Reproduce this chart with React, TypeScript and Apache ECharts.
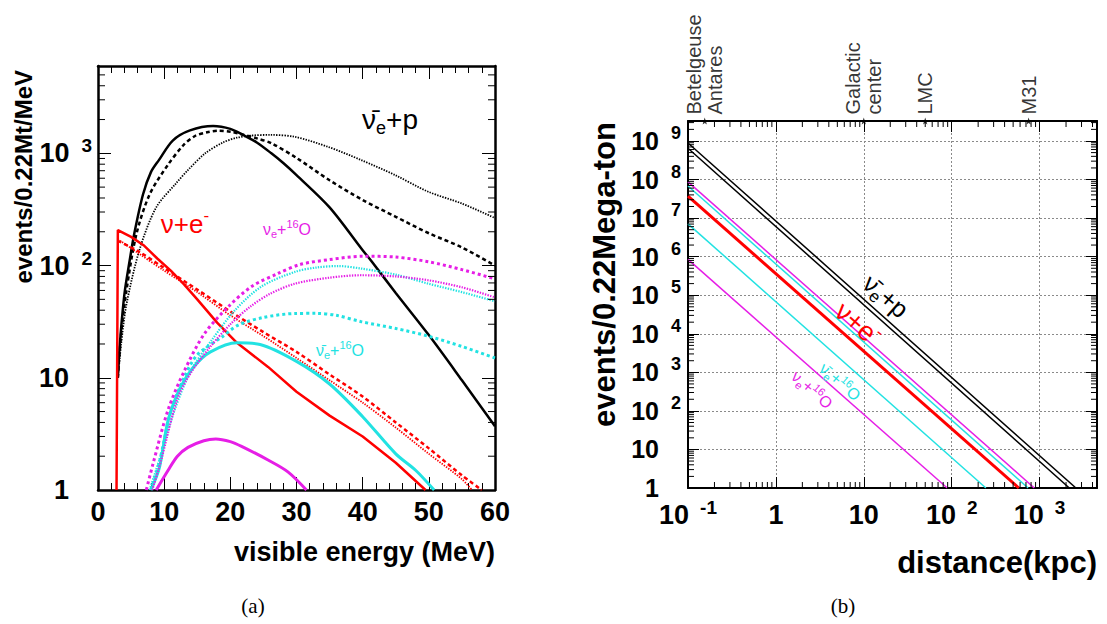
import React, { useEffect, useRef } from 'react';
import * as echarts from 'echarts';

const FONT = '"Liberation Sans", Arial, Helvetica, sans-serif';
const SERIF = '"Liberation Serif", "DejaVu Serif", serif';

const BLACK = '#000000';
const RED = '#ff0000';
const CYAN = '#22e2e2';
const MAGENTA = '#e61ee6';

// ---------------- Panel (a): visible-energy spectra ----------------
const energyMin = 0;
const energyMax = 60;
const energyStep = 10;
const spectrumMin = 1;
const spectrumMax = 6000;

// anti-nu_e + p (three models)
const ibdSolid = [[3.0, 10], [3.3, 20], [4.0, 56], [4.8, 112], [5.5, 195], [6.8, 430], [8, 680], [9.2, 870], [11.3, 1300], [13.9, 1600], [17.4, 1750], [20, 1650], [22, 1450], [24, 1250], [26.2, 1000], [28, 820], [30, 640], [35, 330], [40, 137], [41.4, 108], [45, 57], [50, 24], [55, 9.5], [60, 3.7]];
const ibdDashed = [[3.0, 10], [3.5, 25], [4.3, 60], [5.8, 190], [7.8, 430], [10.5, 780], [12.9, 1180], [14.6, 1420], [16.5, 1540], [18.2, 1590], [20, 1560], [21.7, 1480], [24, 1360], [26.2, 1230], [30, 910], [35, 575], [40, 384], [45, 272], [50, 194], [55, 145], [60, 100]];
const ibdDotted = [[3.0, 10], [3.5, 20], [4.3, 45], [6.3, 140], [8.8, 330], [11.8, 540], [13.5, 700], [16.2, 1000], [18.9, 1250], [21, 1380], [23.2, 1440], [26, 1460], [29.8, 1400], [34.8, 1140], [39.8, 870], [44.9, 640], [49.9, 455], [55, 357], [60, 265]];

// nu + e- elastic scattering
const esSolid = [[2.8, 1], [3.0, 207], [5, 180], [7, 150], [9, 115], [11, 90], [13, 68], [15, 50], [18, 31], [21, 20.5], [25.7, 12.5], [30, 7.5], [35, 4.6], [40, 3.0], [45, 1.75], [49.5, 1]];
const esDashed = [[3.0, 166], [6, 135], [10, 95], [15, 61], [20, 39], [25, 25.5], [30, 17], [35, 10.7], [40, 6.8], [45, 4.0], [50, 2.35], [55, 1.35], [58, 1]];
const esDotted = [[3.0, 172], [6, 130], [10, 90], [15, 58], [20, 36], [25, 23.5], [30, 15], [35, 9.5], [40, 6.0], [45, 3.6], [50, 2.1], [55, 1.25], [56.5, 1]];

// anti-nu_e + 16O
const oBarSolid = [[8.0, 1], [9.3, 1.6], [10.6, 4.2], [12.5, 8.3], [14.5, 12.6], [17, 17], [21, 20.5], [24.5, 19.8], [30, 14], [35, 8.8], [40, 4.5], [45, 2.1], [48, 1.5], [50.8, 1]];
const oBarDashed = [[8.0, 1], [9.3, 1.8], [11, 5], [13, 10], [15, 16], [18.7, 23], [21.2, 29.5], [25, 34.5], [29.8, 37.4], [33, 37.5], [36, 36], [39.8, 31.6], [45, 27.5], [49.9, 23.5], [55, 19], [60, 15]];
const oBarDotted = [[7.8, 1], [9.2, 1.8], [11.6, 5.2], [14.1, 11.7], [17.2, 21.7], [20.7, 40], [24.7, 65], [29.8, 88], [33, 96], [36.3, 99], [39.8, 94], [45, 83], [49.9, 69], [55, 58], [60, 48]];

// nu_e + 16O
const oSolid = [[8.8, 1], [10.6, 1.5], [12, 2.0], [13.6, 2.4], [16, 2.75], [17.8, 2.85], [20, 2.7], [21.7, 2.45], [25.7, 1.85], [28.7, 1.45], [31.5, 1]];
const oDashed = [[7.3, 1], [8.3, 1.7], [10.6, 5.2], [13.1, 11.7], [16.1, 24.8], [19.7, 43], [23.2, 65], [27.2, 85], [30.5, 102], [35, 113], [40, 121], [45, 119], [50, 108], [55, 92], [60, 76]];
const oDotted = [[8.2, 1], [9.5, 1.8], [12, 6.5], [14, 11], [17, 19], [20, 30], [23, 43], [26, 56], [29.8, 69], [35, 78], [39.8, 82], [45, 80], [49.9, 74], [55, 64], [60, 52]];

// ---------------- Panel (b): events vs distance ----------------
const distMin = 0.1;
const distMax = 4500;
const countMin = 1;
const countMax = 3.3e9;

const ibdDistA = [[0.1, 8.9e8], [2590, 1]];
const ibdDistB = [[0.1, 6.5e8], [2180, 1]];
const oDistA = [[0.1, 8.7e7], [870, 1]];
const oBarDistA = [[0.1, 6.8e7], [740, 1]];
const esDist = [[0.1, 3.7e7], [580, 1]];
const oBarDistB = [[0.1, 7.1e6], [245, 1]];
const oDistB = [[0.1, 8.5e5], [89, 1]];

const sourceNames = ['Betelgeuse\nAntares', 'Galactic\ncenter', 'LMC', 'M31'];
const sourceDistances = [0.155, 10, 50, 750];

// ---------------- helpers ----------------
function logMinor(min: number, max: number): number[] {
  const out: number[] = [];
  for (let e = Math.floor(Math.log10(min)); e <= Math.ceil(Math.log10(max)); e++) {
    for (let k = 2; k <= 9; k++) {
      const v = k * Math.pow(10, e);
      if (v > min * 1.0001 && v < max * 0.9999) out.push(v);
    }
  }
  return out;
}

const expOf = (v: number) => Math.round(Math.log10(v));

function yLabel(v: number) {
  const e = expOf(v);
  if (e === 0) return '{b|1}{sp| }';
  if (e === 1) return '{b|10}{sp| }';
  return `{b|10}{s|${e}}`;
}
function xLabelLog(v: number) {
  const e = expOf(v);
  if (e === 0) return '{b|1}';
  if (e === 1) return '{b|10}';
  return `{b|10}{s|${e}}`;
}

function labelRich(base: number, sup: number, gap: number, spacer: number) {
  return {
    b: { fontFamily: FONT, fontWeight: 'bold', fontSize: base, color: '#000', lineHeight: 34 },
    s: { fontFamily: FONT, fontWeight: 'bold', fontSize: sup, color: '#000', lineHeight: 12, verticalAlign: 'top', padding: [0, 0, 0, gap] },
    sp: { fontFamily: FONT, fontSize: sup, width: spacer, lineHeight: 34, color: 'rgba(0,0,0,0)' },
  };
}

function annotRich(size: number, color: string) {
  const small = Math.round(size * 0.66);
  return {
    n: { fontFamily: FONT, fontSize: size, lineHeight: Math.round(size * 1.3), fill: color, color },
    sub: { fontFamily: FONT, fontSize: small, lineHeight: small, verticalAlign: 'bottom', fill: color, color },
    sup: { fontFamily: FONT, fontSize: small, lineHeight: small, verticalAlign: 'top', fill: color, color },
  };
}

function annot(text: string, x: number, y: number, size: number, color: string, rotationDeg = 0) {
  return {
    type: 'text',
    x,
    y,
    rotation: (rotationDeg * Math.PI) / 180,
    silent: true,
    z: 20,
    style: {
      text,
      rich: annotRich(size, color),
      fill: color,
      font: `${size}px ${FONT}`,
      align: 'center',
      verticalAlign: 'middle',
      textAlign: 'center',
      textVerticalAlign: 'middle',
    },
  };
}

function plainText(text: string, x: number, y: number, font: string, align: string, rotationDeg = 0) {
  return {
    type: 'text',
    x,
    y,
    rotation: (rotationDeg * Math.PI) / 180,
    silent: true,
    z: 20,
    style: {
      text,
      fill: '#000',
      font,
      align,
      verticalAlign: 'middle',
      textAlign: align,
      textVerticalAlign: 'middle',
    },
  };
}

function curve(data: number[][], color: string, dash: any, width: number, xi: number, yi: number, smooth: number | boolean = 0.3) {
  return {
    type: 'line',
    xAxisIndex: xi,
    yAxisIndex: yi,
    data,
    symbol: 'none',
    showSymbol: false,
    smooth,
    silent: true,
    clip: true,
    lineStyle: { color, width, type: dash, cap: 'butt' },
    z: 3,
  };
}

function minorTickSeries(values: number[][], xi: number, yi: number, dir: 'x' | 'y', len: number) {
  return {
    type: 'custom',
    xAxisIndex: xi,
    yAxisIndex: yi,
    silent: true,
    z: 5,
    data: values,
    renderItem: (params: any, api: any) => {
      const cs = params.coordSys;
      const p = api.coord([api.value(0), api.value(1)]);
      const st = { stroke: '#000', lineWidth: 1 };
      if (dir === 'y') {
        const y = p[1];
        return {
          type: 'group',
          children: [
            { type: 'line', shape: { x1: cs.x, y1: y, x2: cs.x + len, y2: y }, style: st },
            { type: 'line', shape: { x1: cs.x + cs.width - len, y1: y, x2: cs.x + cs.width, y2: y }, style: st },
          ],
        };
      }
      const x = p[0];
      return {
        type: 'group',
        children: [
          { type: 'line', shape: { x1: x, y1: cs.y + cs.height, x2: x, y2: cs.y + cs.height - len }, style: st },
          { type: 'line', shape: { x1: x, y1: cs.y, x2: x, y2: cs.y + len }, style: st },
        ],
      };
    },
  };
}

const DASH = [4, 3];
const DOT = [1.4, 1.3];
const SQDOT = [3, 3];

export default function App() {
  const ref = useRef<HTMLDivElement>(null);

  useEffect(() => {
    if (!ref.current) return;
    const chart = echarts.init(ref.current, null, { renderer: 'svg' });

    const axisLineA = { show: true, onZero: false, lineStyle: { color: '#000', width: 2.5 } };
    const axisLineB = { show: true, onZero: false, lineStyle: { color: '#000', width: 2 } };
    const tickA = { show: true, inside: true, length: 13, lineStyle: { color: '#000', width: 1 } };
    const tickB = { show: true, inside: true, length: 11, lineStyle: { color: '#000', width: 1 } };
    const noSplit = { show: false };
    const gridSplit = { show: true, lineStyle: { color: '#8a8a8a', width: 1, type: [2, 2] } };

    const option: any = {
      animation: false,
      backgroundColor: '#ffffff',
      grid: [
        { left: 98, top: 66, width: 397, height: 424, containLabel: false, outerBoundsMode: 'none', show: false },
        { left: 688, top: 121, width: 409, height: 367, containLabel: false, outerBoundsMode: 'none', show: false },
      ],
      xAxis: [
        {
          gridIndex: 0, type: 'value', position: 'bottom', min: energyMin, max: energyMax, interval: energyStep,
          axisLine: axisLineA, axisTick: tickA,
          minorTick: { show: true, splitNumber: 5, length: 7, lineStyle: { color: '#000', width: 1 } },
          splitLine: noSplit, minorSplitLine: { show: false },
          axisLabel: {
            show: true, margin: 5, formatter: (v: number) => `{b|${v}}`,
            rich: labelRich(27, 19, 12, 0),
          },
        },
        {
          gridIndex: 1, type: 'log', logBase: 10, position: 'bottom', min: distMin, max: distMax,
          axisLine: axisLineB, axisTick: tickB, splitLine: gridSplit,
          axisLabel: { show: true, margin: 10, showMaxLabel: false, formatter: xLabelLog, rich: labelRich(27, 19, 11, 0) },
        },
        {
          gridIndex: 0, type: 'value', position: 'top', min: energyMin, max: energyMax, interval: energyStep,
          axisLine: axisLineA, axisTick: tickA,
          minorTick: { show: true, splitNumber: 5, length: 7, lineStyle: { color: '#000', width: 1 } },
          splitLine: noSplit, axisLabel: { show: false },
        },
        {
          gridIndex: 1, type: 'log', logBase: 10, position: 'top', min: distMin, max: distMax,
          axisLine: axisLineB, axisTick: tickB, splitLine: noSplit, axisLabel: { show: false },
        },
      ],
      yAxis: [
        {
          gridIndex: 0, type: 'log', logBase: 10, position: 'left', min: spectrumMin, max: spectrumMax,
          axisLine: axisLineA, axisTick: tickA, splitLine: noSplit,
          axisLabel: { show: true, margin: 6, showMaxLabel: false, formatter: yLabel, rich: labelRich(27, 19, 12, 23) },
        },
        {
          gridIndex: 1, type: 'log', logBase: 10, position: 'left', min: countMin, max: countMax,
          axisLine: axisLineB, axisTick: tickB, splitLine: gridSplit,
          axisLabel: { show: true, margin: 7, showMaxLabel: false, formatter: yLabel, rich: labelRich(25, 18, 12, 22) },
        },
        {
          gridIndex: 0, type: 'log', logBase: 10, position: 'right', min: spectrumMin, max: spectrumMax,
          axisLine: axisLineA, axisTick: tickA, splitLine: noSplit, axisLabel: { show: false },
        },
        {
          gridIndex: 1, type: 'log', logBase: 10, position: 'right', min: countMin, max: countMax,
          axisLine: axisLineB, axisTick: tickB, splitLine: noSplit, axisLabel: { show: false },
        },
      ],
      series: [
        // panel (a)
        curve(ibdDotted, BLACK, DOT, 1.8, 0, 0),
        curve(ibdDashed, BLACK, DASH, 2.5, 0, 0),
        curve(ibdSolid, BLACK, 'solid', 2.5, 0, 0),
        curve(esDotted, RED, DOT, 1.8, 0, 0),
        curve(esDashed, RED, DASH, 2.5, 0, 0),
        curve(esSolid, RED, 'solid', 2.5, 0, 0, false),
        curve(oBarDotted, CYAN, DOT, 2.2, 0, 0),
        curve(oBarDashed, CYAN, SQDOT, 3, 0, 0),
        curve(oBarSolid, CYAN, 'solid', 3, 0, 0),
        curve(oDotted, MAGENTA, DOT, 2.2, 0, 0),
        curve(oDashed, MAGENTA, SQDOT, 3, 0, 0),
        curve(oSolid, MAGENTA, 'solid', 3, 0, 0),
        // panel (b)
        curve(ibdDistA, BLACK, 'solid', 1.5, 1, 1, false),
        curve(ibdDistB, BLACK, 'solid', 1.5, 1, 1, false),
        curve(oDistA, MAGENTA, 'solid', 1.5, 1, 1, false),
        curve(oBarDistA, CYAN, 'solid', 1.5, 1, 1, false),
        curve(esDist, RED, 'solid', 3, 1, 1, false),
        curve(oBarDistB, CYAN, 'solid', 1.5, 1, 1, false),
        curve(oDistB, MAGENTA, 'solid', 1.5, 1, 1, false),
        {
          type: 'scatter',
          xAxisIndex: 1,
          yAxisIndex: 1,
          clip: false,
          silent: true,
          symbol: 'path://M0,-5L1.2,-1.6L4.8,-1.6L1.9,0.6L2.9,4L0,2L-2.9,4L-1.9,0.6L-4.8,-1.6L-1.2,-1.6Z',
          symbolSize: 7,
          itemStyle: { color: '#000' },
          z: 10,
          data: sourceNames.map((n, i) => ({ name: n, value: [sourceDistances[i], countMax] })),
          label: {
            show: true,
            formatter: '{b}',
            position: 'top',
            distance: 3,
            rotate: 90,
            align: 'left',
            verticalAlign: 'middle',
            fontFamily: FONT,
            fontSize: 20,
            lineHeight: 21,
            color: '#000',
          },
        },
        minorTickSeries(logMinor(spectrumMin, spectrumMax).map((v) => [energyMin, v]), 0, 0, 'y', 7),
        minorTickSeries(logMinor(countMin, countMax).map((v) => [distMin, v]), 1, 1, 'y', 6),
        minorTickSeries(logMinor(distMin, distMax).map((v) => [v, countMin]), 1, 1, 'x', 6),
      ],
      graphic: [
        // axis titles
        plainText('events/0.22Mt/MeV', 23, 70, `bold 24px ${FONT}`, 'right', 90),
        plainText('visible energy (MeV)', 495, 552, `bold 27px ${FONT}`, 'right'),
        plainText('events/0.22Mega-ton', 604, 122, `bold 31px ${FONT}`, 'right', 90),
        plainText('distance(kpc)', 1097, 562, `bold 31px ${FONT}`, 'right'),
        // captions
        plainText('(a)', 253, 606, `21px ${SERIF}`, 'center'),
        plainText('(b)', 843, 606, `21px ${SERIF}`, 'center'),
        // panel (a) annotations
        annot('{n|ν\u0304}{sub|e}{n|+p}', 390, 119, 28, BLACK),
        annot('{n|ν+e}{sup|-}', 185, 224, 26, RED),
        annot('{n|ν}{sub|e}{n|+}{sup|16}{n|O}', 287, 229, 16, MAGENTA),
        annot('{n|ν\u0304}{sub|e}{n|+}{sup|16}{n|O}', 340, 350, 16, CYAN),
        // panel (b) annotations
        annot('{n|ν\u0304}{sub|e}{n|+p}', 886, 296, 25, BLACK, -41),
        annot('{n|ν+e}{sup|-}', 858, 324, 27, RED, -41),
        annot('{n|ν\u0304}{sub|e}{n|+}{sup|16}{n|O}', 840, 382, 16, CYAN, -41),
        annot('{n|ν}{sub|e}{n|+}{sup|16}{n|O}', 812, 390, 16, MAGENTA, -41),
      ],
    };

    chart.setOption(option);
    return () => chart.dispose();
  }, []);

  return (
    <div
      ref={ref}
      style={{ position: 'absolute', left: 0, top: 0, width: 1107, height: 624, background: '#fff' }}
    />
  );
}
